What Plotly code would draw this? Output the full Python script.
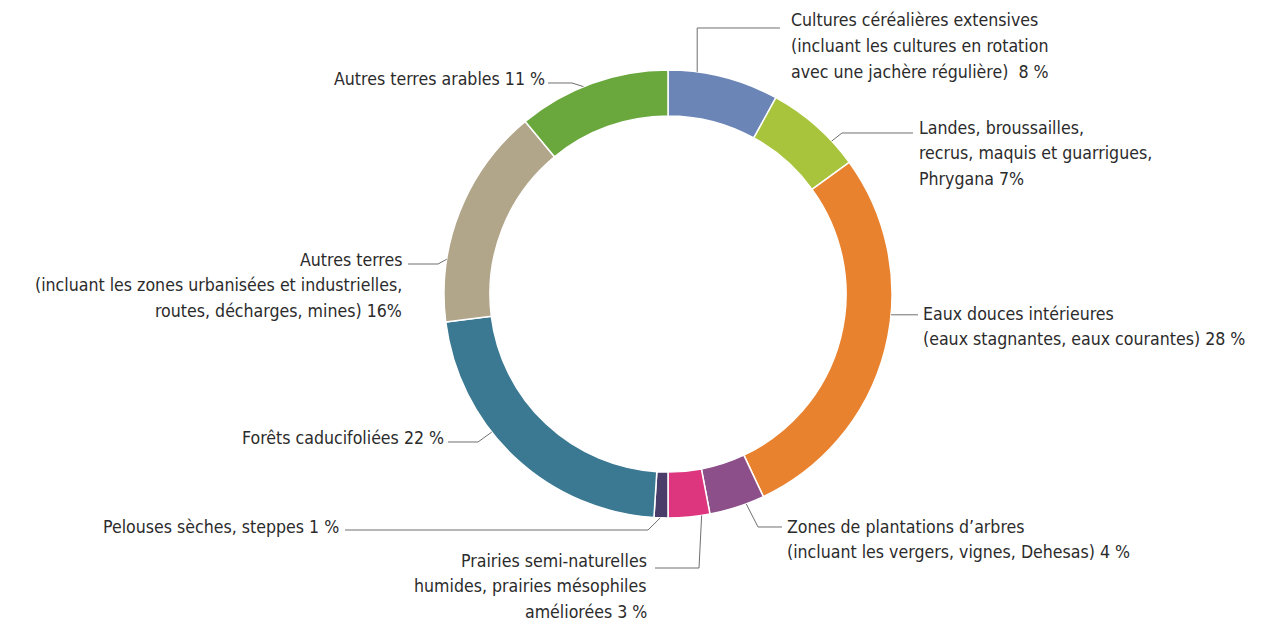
import math
import plotly.graph_objects as go

# Land-cover shares (percent), clockwise from 12 o'clock
labels = [
    "Cultures céréalières extensives",
    "Landes, broussailles, recrus, maquis et guarrigues, Phrygana",
    "Eaux douces intérieures",
    "Zones de plantations d’arbres",
    "Prairies semi-naturelles humides, prairies mésophiles améliorées",
    "Pelouses sèches, steppes",
    "Forêts caducifoliées",
    "Autres terres",
    "Autres terres arables",
]
values = [8, 7, 28, 4, 3, 1, 22, 16, 11]
colors = ["#6b85b7", "#a8c43c", "#e9822f", "#8c4f8a", "#de357f",
          "#4b3d6a", "#3b7993", "#b1a58a", "#6aa83e"]

# Label texts drawn beside the ring, one list entry per line
label_texts = [
    ["Cultures céréalières extensives", "(incluant les cultures en rotation",
     "avec une jachère régulière)  8 %"],
    ["Landes, broussailles,", "recrus, maquis et guarrigues,", "Phrygana 7%"],
    ["Eaux douces intérieures", "(eaux stagnantes, eaux courantes) 28 %"],
    ["Zones de plantations d’arbres", "(incluant les vergers, vignes, Dehesas) 4 %"],
    ["Prairies semi-naturelles", "humides, prairies mésophiles", "améliorées 3 %"],
    ["Pelouses sèches, steppes 1 %"],
    ["Forêts caducifoliées 22 %"],
    ["Autres terres", "(incluant les zones urbanisées et industrielles,",
     "routes, décharges, mines) 16%"],
    ["Autres terres arables 11 %"],
]

W, H = 1274, 624
CX, CY, R = 668, 294, 224
HOLE = 0.795
LINE_STEP = 25.5

# Label layout: position of each leader along its slice (0..1), elbow and
# end point of the leader (px), centre of the text block (px) and alignment
label_layout = [
    dict(frac=0.26, elbow=None, end=(780, 28), text=(789, 46), side="left"),
    dict(frac=0.72, elbow=(842, 133), end=(913, 133), text=(917, 153), side="left"),
    dict(frac=0.41, elbow=None, end=(918, None), text=(921, 326.5), side="left"),
    dict(frac=0.33, elbow=(758, 527), end=(782, 527), text=(785, 539.5), side="left"),
    dict(frac=0.20, elbow=(699, 568), end=(655, 568), text=(649, 586), side="right"),
    dict(frac=0.55, elbow=(648, 530), end=(345, 530), text=(341, 527), side="right"),
    dict(frac=0.61, elbow=(478, 442), end=(448, 442), text=(446, 438), side="right"),
    dict(frac=0.28, elbow=(438, 264), end=(408, 264), text=(404, 285), side="right"),
    dict(frac=0.44, elbow=(572, 83), end=(548, 83), text=(547, 79), side="right"),
]

FONT = "DejaVu Sans Condensed, Liberation Sans Narrow, Arial Narrow, sans-serif"
TEXT_COLOR = "#2b2b2b"
LINE_COLOR = "#6f6f6f"


def px(x, y):
    return x / W, 1 - y / H


fig = go.Figure(go.Pie(
    labels=labels,
    values=values,
    hole=HOLE,
    sort=False,
    direction="clockwise",
    rotation=0,
    marker=dict(colors=colors, line=dict(color="white", width=1.5)),
    textinfo="none",
    hoverinfo="label+percent",
    showlegend=False,
    domain=dict(x=[(CX - R) / W, (CX + R) / W], y=[1 - (CY + R) / H, 1 - (CY - R) / H]),
))

total = sum(values)
shapes, annotations = [], []
cum = 0
for val, lines, lay in zip(values, label_texts, label_layout):
    ang = 2 * math.pi * (cum + lay["frac"] * val) / total
    cum += val
    ax = CX + R * math.sin(ang)
    ay = CY - R * math.cos(ang)
    pts = [(ax, ay)]
    if lay["elbow"] is None:
        ex, ey = lay["end"]
        if ey is None:
            pts.append((ex, ay))
        else:
            pts.append((ax, ey))
            pts.append((ex, ey))
    else:
        pts.append(lay["elbow"])
        pts.append(lay["end"])
    path = "M " + " L ".join(f"{px(x, y)[0]:.5f},{px(x, y)[1]:.5f}" for x, y in pts)
    shapes.append(dict(type="path", xref="paper", yref="paper", path=path,
                       line=dict(color=LINE_COLOR, width=1)))
    bx, by = lay["text"]
    n = len(lines)
    for i, line in enumerate(lines):
        ly = by + (i - (n - 1) / 2) * LINE_STEP
        tx, ty = px(bx, ly)
        annotations.append(dict(
            x=tx, y=ty, xref="paper", yref="paper", text=line, showarrow=False,
            xanchor=lay["side"], yanchor="middle", align=lay["side"],
            font=dict(family=FONT, size=17.6, color=TEXT_COLOR),
        ))

fig.update_layout(
    width=W, height=H,
    margin=dict(l=0, r=0, t=0, b=0),
    paper_bgcolor="white", plot_bgcolor="white",
    shapes=shapes, annotations=annotations,
)

fig.write_html("out.html")
